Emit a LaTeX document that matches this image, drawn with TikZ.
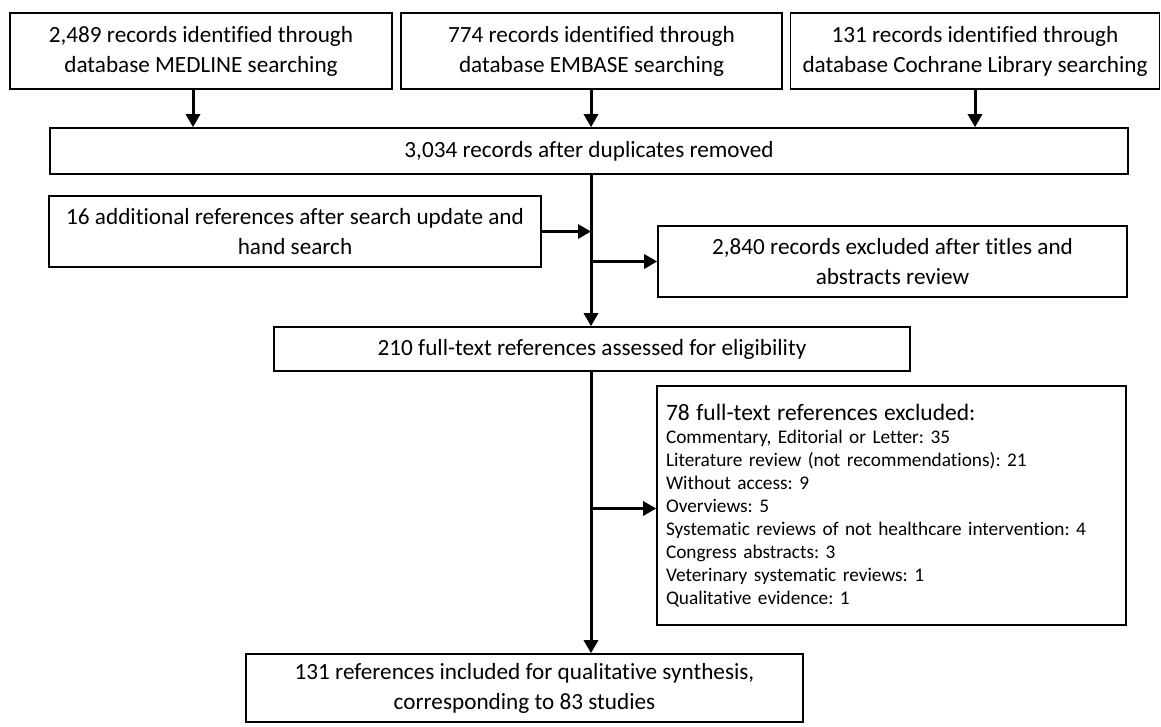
\documentclass[tikz,border=0pt]{standalone}
\usepackage{fontspec}
\setmainfont[Ligatures=NoCommon]{Carlito}
\usetikzlibrary{arrows.meta}
\frenchspacing
\begin{document}
\begin{tikzpicture}[x=1pt,y=-1pt,
  box/.style={draw, line width=1.6pt, inner sep=4pt, align=center,
    font=\fontsize{23.2}{30}\selectfont},
  arr/.style={line width=3pt, -{Triangle[length=13pt,width=14pt]}},
  ln/.style={line width=3pt}]
\useasboundingbox (0,0) rectangle (1161,726);
\node[box, minimum width=382pt, minimum height=76pt] (A) at (201,51)
  {2,489 records identified through\\database MEDLINE searching};
\node[box, minimum width=381pt, minimum height=76pt] (B) at (591.5,51)
  {774 records identified through\\database EMBASE searching};
\node[box, minimum width=369pt, minimum height=76pt] (C) at (975,51)
  {131 records identified through\\database Cochrane Library searching};
\node[box, minimum width=1078pt, minimum height=46pt] (D) at (589,151)
  {3,034 records after duplicates removed};
\node[box, minimum width=492pt, minimum height=71pt] (E) at (295,231.5)
  {16 additional references after search update and\\hand search};
\node[box, minimum width=469pt, minimum height=71pt] (F) at (892.5,261.5)
  {2,840 records excluded after titles and\\abstracts review};
\node[box, minimum width=636pt, minimum height=44pt] (G) at (592,349)
  {210 full-text references assessed for eligibility};
\node[box, minimum width=469pt, minimum height=239pt, text width=451pt, align=left,
  font=\fontsize{19.3}{23}\selectfont] (X) at (891.5,505.5)
  {{\fontsize{23.5}{30}\selectfont 78 full-text references excluded:}\\
   Commentary, Editorial or Letter: 35\\
   Literature review (not recommendations): 21\\
   Without access: 9\\
   Overviews: 5\\
   Systematic reviews of not healthcare intervention: 4\\
   Congress abstracts: 3\\
   Veterinary systematic reviews: 1\\
   Qualitative evidence: 1};
\node[box, minimum width=557pt, minimum height=68pt] (H) at (524.5,688)
  {131 references included for qualitative synthesis,\\corresponding to 83 studies};
\coordinate (sp) at (591,0);
\draw[arr] ([xshift=-8pt]A.south) -- ([xshift=-8pt]A.south |- D.north);
\draw[arr] (B.south -| sp) -- (D.north -| sp);
\draw[arr] (C.south) -- (C.south |- D.north);
\draw[arr] (D.south -| sp) -- (G.north -| sp);
\draw[arr] (E.east) -- (E.east -| sp);
\draw[arr] (F.west -| sp) -- (F.west);
\draw[arr] ([yshift=-3pt]X.west -| sp) -- ([yshift=-3pt]X.west);
\draw[arr] (G.south -| sp) -- (H.north -| sp);
\end{tikzpicture}
\end{document}
